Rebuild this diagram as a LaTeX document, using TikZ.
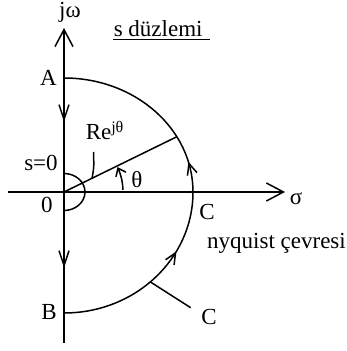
\documentclass[tikz,border=0pt]{standalone}
\usepackage{fontspec}
\setmainfont{Liberation Serif}
\usetikzlibrary{arrows.meta,decorations.markings,calc}
\begin{document}
\begin{tikzpicture}[x=1pt,y=1pt, line width=1.5pt,
  lbl/.style={inner sep=0pt, font=\fontsize{23}{27}\selectfont},
  bigtip/.tip={Straight Barb[length=17pt,width=18pt]},
  midtip/.tip={Straight Barb[length=15pt,width=10pt]},
  arctip/.tip={Straight Barb[length=11pt,width=10pt]},
  angtip/.tip={Straight Barb[length=7pt,width=11pt]},
]
\useasboundingbox (0,0) rectangle (347,351);
% key points
\coordinate (O) at (64,159);
\coordinate (vtop) at (64,323);
\coordinate (vbot) at (64,8);
\coordinate (hleft) at (8,159);
\coordinate (hright) at (285,159);
\coordinate (A) at (64,273);
\coordinate (B) at (64,38);
\coordinate (P) at ($(O)+(29:129pt and 114pt)$);
\coordinate (L0) at (93.5,199);
\coordinate (L1) at ($(O)!0.248!(P)$);
\coordinate (Q) at ($(O)+(-48:129pt and 121pt)$);
\coordinate (Qe) at (190.7,43.3);
% axes
\draw[-bigtip, postaction={decorate}, decoration={markings,
  mark=at position 75pt with {\arrowreversed{midtip}},
  mark=at position 221pt with {\arrowreversed{midtip}}}] (vbot) -- (vtop);
\draw[-bigtip] (hleft) -- (hright);
% nyquist contour arcs
\draw[postaction={decorate}, decoration={markings,
  mark=at position 134pt with {\arrow{arctip}},
  mark=at position 227pt with {\arrow{arctip}}}]
  (B) arc[start angle=-90,end angle=0,x radius=129pt,y radius=121pt]
      arc[start angle=0,end angle=90,x radius=129pt,y radius=114pt];
% small semicircle at origin
\draw ($(O)+(0,18.5)$) arc[start angle=90,end angle=-90,x radius=21pt,y radius=18.5pt];
% radius line and angle
\draw (O) -- (P);
\draw[-angtip] ($(O)+(2:59pt)$) arc[start angle=2,end angle=25,radius=59pt];
% leaders
\draw (L0) .. controls (94,183) .. (L1);
\draw (Q) -- (Qe);
% labels
\node[lbl] (jw) at (70,339) {jω};
\node[lbl, anchor=base west] (sd) at (113,314.3) {s düzlemi};
\draw (113,311.5) -- (210,311.5);
\node[lbl] (lA) at (48.5,273.5) {A};
\node[lbl] (ls0) at (41,188) {s=0};
\node[lbl] (l0) at (47,146) {0};
\node[lbl] (lB) at (49,39) {B};
\node[lbl] (lC1) at (207,139) {C};
\node[lbl, anchor=base] (nyq) at (276.5,102) {nyquist çevresi};
\node[lbl] (lC2) at (209,34) {C};
\node[lbl] (sig) at (296,152) {σ};
\node[lbl] (th) at (137,171) {θ};
\node[lbl, anchor=base west] (re) at (85,211) {Re\raisebox{7.5pt}{\fontsize{16}{16}\selectfont jθ}};
\end{tikzpicture}
\end{document}
